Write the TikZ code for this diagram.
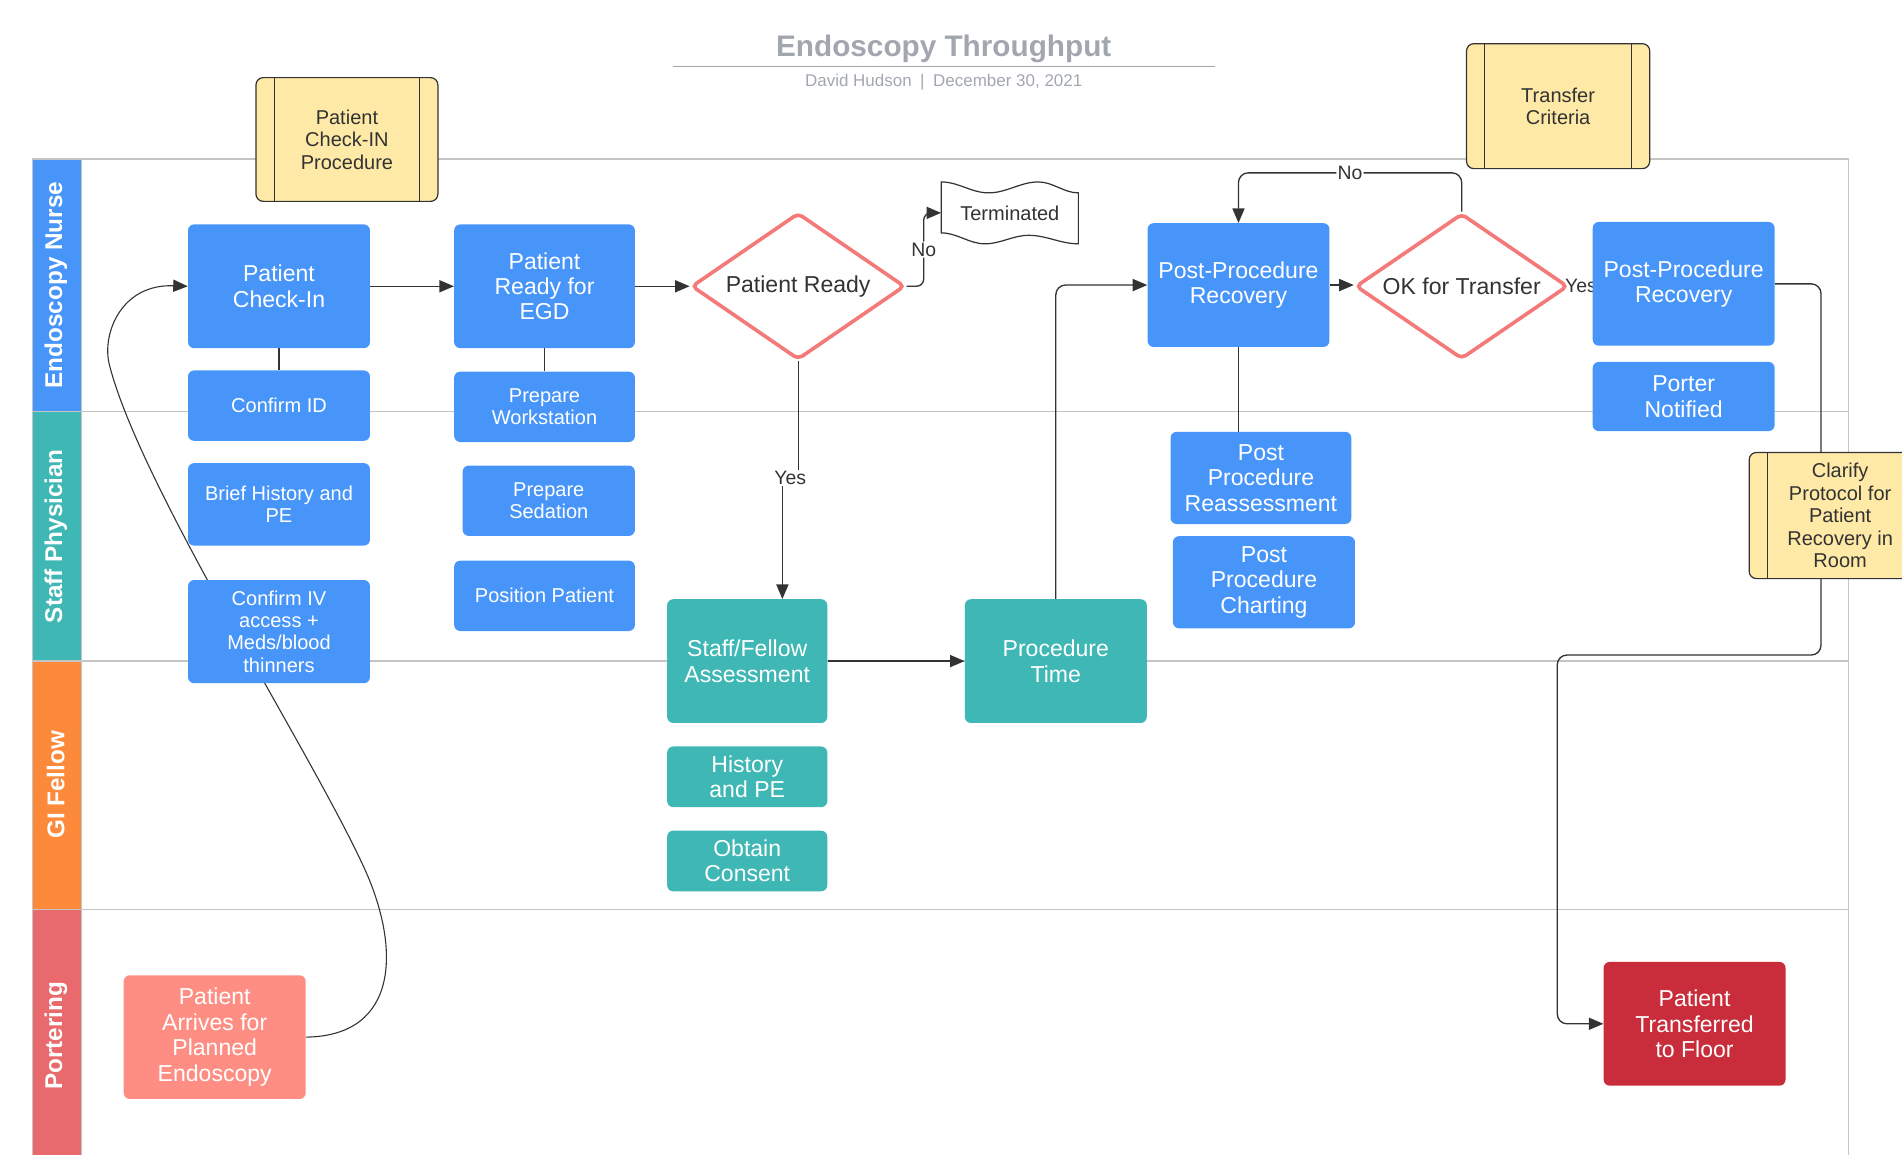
\documentclass[tikz,border=0pt]{standalone}
\usepackage{fontspec}
\setmainfont{Liberation Sans}
\usepackage{tikz}
\usetikzlibrary{positioning,shapes.geometric,arrows.meta,calc}

\definecolor{nurseblue}{HTML}{4895FA}
\definecolor{physteal}{HTML}{3FB7B5}
\definecolor{felloworange}{HTML}{FD8A3A}
\definecolor{porterred}{HTML}{E86A6C}
\definecolor{arrivesalmon}{HTML}{FE8E83}
\definecolor{floorred}{HTML}{C92C3A}
\definecolor{notepale}{HTML}{FEE9A6}
\definecolor{decisionred}{HTML}{F37A79}
\definecolor{laneline}{HTML}{C4C4C4}
\definecolor{titlegray}{HTML}{A2A7AF}
\definecolor{wire}{HTML}{333333}

\pgfdeclarelayer{lanes}
\pgfdeclarelayer{wires}
\pgfsetlayers{lanes,wires,main}

\tikzset{
  >={Triangle[length=12pt,width=10pt]},
  flow/.style={->,draw=wire,line width=1.1pt},
  link/.style={-,draw=wire,line width=1.1pt},
  task/.style={rectangle,rounded corners=5pt,fill=nurseblue,text=white,align=center,
    inner sep=2pt,minimum width=150pt,minimum height=102pt,
    font=\fontsize{19}{21}\selectfont},
  subtask/.style={task,minimum height=58pt,font=\fontsize{16.5}{18.5}\selectfont},
  tealtask/.style={task,fill=physteal},
  decision/.style={diamond,aspect=1.45,draw=decisionred,line width=3pt,fill=white,
    rounded corners=4pt,inner sep=0pt,text=wire,font=\fontsize{19}{21}\selectfont},
  note/.style={rectangle,rounded corners=6pt,draw=wire,line width=1pt,fill=notepale,
    text=wire,align=center,minimum width=150pt,minimum height=102pt,
    font=\fontsize{16.5}{18.5}\selectfont,
    path picture={\draw[wire,line width=1pt]
      ([xshift=15pt]path picture bounding box.north west) -- ([xshift=15pt]path picture bounding box.south west)
      ([xshift=-15pt]path picture bounding box.north east) -- ([xshift=-15pt]path picture bounding box.south east);}},
  lbl/.style={fill=white,inner sep=1pt,text=wire,font=\fontsize{16}{18}\selectfont},
  lanebar/.style={draw=laneline,line width=1pt},
  lanetext/.style={rotate=90,text=white,font=\fontsize{20}{22}\selectfont\bfseries}
}

\begin{document}
\begin{tikzpicture}[x=1pt,y=-1pt]
\useasboundingbox (0,0) rectangle (1568,952);

% title block
\node[text=titlegray,font=\fontsize{24.5}{29}\selectfont\bfseries] (title) at (778,40) {Endoscopy Throughput};
\draw[titlegray,line width=1pt] (555,55) -- (1002,55);
\node[text=titlegray,font=\fontsize{14}{16}\selectfont] (byline) at (778,68) {David Hudson\enspace|\enspace December 30, 2021};

% swimlanes
\begin{pgfonlayer}{lanes}
  \draw[lanebar,fill=nurseblue] (27,131) rectangle (67,339);
  \draw[lanebar,fill=physteal] (27,339) rectangle (67,545);
  \draw[lanebar,fill=felloworange] (27,545) rectangle (67,750);
  \draw[lanebar,fill=porterred] (27,750) rectangle (67,960);
  \draw[lanebar] (67,131) -- (1524,131) -- (1524,960);
  \foreach \y in {339,545,750} \draw[lanebar] (67,\y) -- (1524,\y);
\end{pgfonlayer}
\node[lanetext] (lnurse) at (46,235) {Endoscopy Nurse};
\node[lanetext] (lphys) at (46,442) {Staff Physician};
\node[lanetext] (lfellow) at (46,647) {GI Fellow};
\node[lanetext] (lporter) at (46,854) {Portering};

% notes
\node[note] (checkinproc) at (286,115) {Patient\\Check-IN\\Procedure};
\node[note,minimum width=151pt,minimum height=103pt] (xfercrit) at (1284.5,87.5) {Transfer\\Criteria};
\node[note,minimum height=104pt] (clarify) at (1517,425) {Clarify\\Protocol for\\Patient\\Recovery in\\Room};

% nurse column
\node[task] (checkin) at (230,236) {Patient\\Check-In};
\node[subtask,below=18pt of checkin] (confirmid) {Confirm ID};
\node[subtask,below=18pt of confirmid,minimum height=68pt] (briefhx) {Brief History and\\PE};
\node[subtask,below=28pt of briefhx,minimum height=85pt] (confirmiv) {Confirm IV\\access +\\Meds/blood\\thinners};

\node[task,minimum width=149pt,right=69pt of checkin] (readyegd) {Patient\\Ready for\\EGD};
\node[subtask,minimum width=149pt,below=19pt of readyegd] (prepws) {Prepare\\Workstation};
\node[subtask,minimum width=142pt,below=19pt of prepws.south east,anchor=north east] (prepsed) {Prepare\\Sedation};
\node[subtask,minimum width=149pt,below=20pt of prepsed.south east,anchor=north east] (position) {Position Patient};

\node[decision,minimum width=176pt,minimum height=121pt] (pready) at (658,236) {Patient Ready};

% terminator flag
\draw[wire,line width=1pt,fill=white]
  (776,150) cos (795.5,154.5) sin (815,159) cos (835.5,154.5) sin (856,150) cos (872.5,154.5) sin (889,159)
  -- (889,201) cos (868.5,197.5) sin (848,194) cos (830,197.5) sin (812,201) cos (794,196.5) sin (776,192) -- cycle;
\node[font=\fontsize{16.5}{18.5}\selectfont,text=wire,minimum width=113pt,minimum height=42pt,inner sep=0pt] (term) at (832.5,175.5) {Terminated};

% fellow / physician
\node[tealtask,minimum width=132pt] (sfa) at (616,545) {Staff/Fellow\\Assessment};
\node[tealtask,minimum width=132pt,minimum height=50pt,below=19pt of sfa] (hxpe) {History\\and PE};
\node[tealtask,minimum width=132pt,minimum height=50pt,below=19pt of hxpe] (consent) {Obtain\\Consent};
\node[tealtask,right=113pt of sfa] (proctime) {Procedure\\Time};

% recovery
\node[task] (ppr1) at (1021,235) {Post-Procedure\\Recovery};
\node[decision,minimum width=175pt,minimum height=120pt] (okx) at (1205,236) {OK for Transfer};
\node[task] (ppr2) at (1388,234) {Post-Procedure\\Recovery};
\node[task,minimum height=57pt,below=13pt of ppr2] (porter) {Porter\\Notified};
\node[task,minimum width=149pt,minimum height=76pt] (reassess) at (1039.5,394) {Post\\Procedure\\Reassessment};
\node[task,minimum height=76pt] (charting) at (1042,480) {Post\\Procedure\\Charting};

% portering
\node[task,fill=arrivesalmon] (arrive) at (177,855) {Patient\\Arrives for\\Planned\\Endoscopy};
\node[task,fill=floorred] (xferfloor) at (1397,844) {Patient\\Transferred\\to Floor};

\coordinate (sfain) at ([xshift=29pt]sfa.north);

\begin{pgfonlayer}{wires}
  \draw[flow] (checkin.east) -- (checkin.east -| readyegd.west);
  \draw[flow] (readyegd.east) -- (readyegd.east -| pready.west);
  \draw[flow,rounded corners=6pt] (pready.east) -- ++(14,0) |- node[lbl,pos=0.25]{No} (term.west);
  \draw[flow] (pready.south) -- ++(0,96) -| node[lbl,pos=0.25]{Yes} (sfain);
  \draw[flow] (sfa.east) -- (proctime.west);
  \draw[flow,rounded corners=8pt] (proctime.north) |- (ppr1.west);
  \draw[flow] (ppr1.east) -- (ppr1.east -| okx.west);
  \draw[flow,rounded corners=8pt] (okx.north) -- ++(0,-32) -| node[lbl,pos=0.25]{No} (ppr1.north);
  \draw[flow] (okx.east) -- node[lbl]{Yes} (okx.east -| ppr2.west);
  \draw[flow,rounded corners=8pt] (ppr2.east) -| ++(38,306) -| ($(xferfloor.west)+(-38,0)$) -- (xferfloor.west);
  \draw[link] (checkin) -- (confirmid);
  \draw[link] (readyegd) -- (prepws);
  \draw[link] (ppr1.south) -- (ppr1.south |- reassess.north);
  \draw[flow,line width=0.9pt] (arrive.east) .. controls (330,854) and (330,780) .. (300,715)
     .. controls (255,617) and (115,400) .. (90,300)
     .. controls (84,275) and (100,234) .. (checkin.west);
\end{pgfonlayer}
\end{tikzpicture}
\end{document}
